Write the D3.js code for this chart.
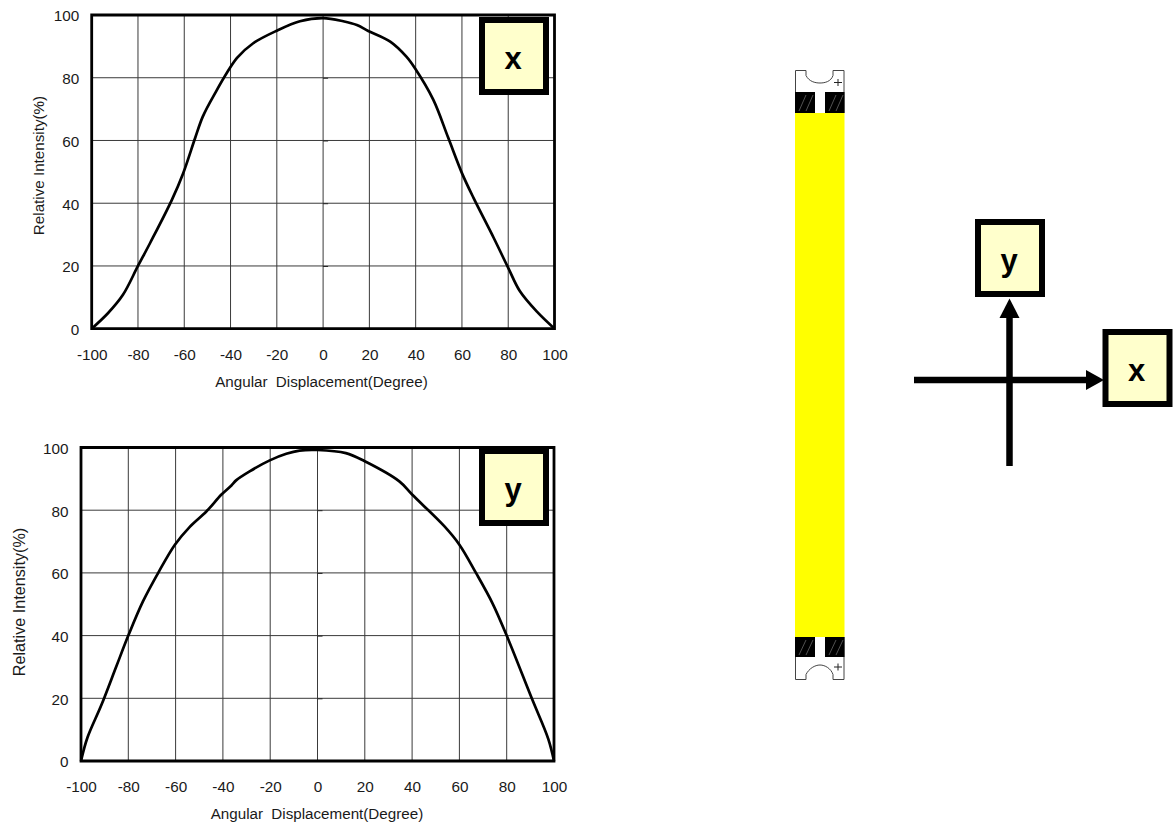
<!doctype html>
<html>
<head>
<meta charset="utf-8">
<title>Relative Intensity</title>
<script src="https://cdn.jsdelivr.net/npm/d3@7/dist/d3.min.js"></script>
<style>
  html, body { margin: 0; padding: 0; background: #fff; }
  svg { display: block; }
  text { font-family: "Liberation Sans", Arial, sans-serif; fill: #1a1a1a; }
</style>
</head>
<body>
<script>
// values
const xTicks = [-100, -80, -60, -40, -20, 0, 20, 40, 60, 80, 100];
const yTicks = [0, 20, 40, 60, 80, 100];
const xLabel = "Angular Displacement(Degree)";
const yLabel = "Relative Intensity(%)";

const angleX = [-100, -92.9, -86.5, -80, -74.7, -65.4, -60.5, -55.3, -52, -47.5, -37.2, -30.2, -20, -10, 0,
  8.7, 14.6, 19.5, 29, 36, 39.7, 47.6, 54, 60, 65, 73.7, 80, 85, 92.3, 100];
const intensityX = [0, 5, 10.8, 20, 27.4, 41, 49.5, 60.8, 67.6, 74, 86.3, 91, 95, 98, 99,
  98, 96.8, 94.9, 91.5, 86.7, 83, 73, 61, 49.6, 41.7, 29, 19.4, 12, 5.5, 0];

const angleY = [-100, -97.3, -91.3, -85, -80, -73.8, -67, -60.3, -54, -47, -40.6, -36.4, -34.3, -28.7, -20.2, -13.2, -7.6, 0,
  12, 20, 34.6, 40, 53.6, 60, 67, 74, 80, 90.6, 97.6, 100];
const intensityY = [0, 7.4, 18, 30.3, 40, 50.9, 60.5, 69, 74.7, 79.6, 85, 87.9, 89.6, 92.4, 95.9, 98, 99, 99.2,
  98.2, 95.6, 89.2, 85, 74.9, 69, 60, 50.3, 40, 20, 7, 0];

const svg = d3.select("body").append("svg").attr("width", 1174).attr("height", 826);

function drawChart(angles, values, box, tag) {
  const x = d3.scaleLinear().domain([-100, 100]).range([box.left, box.right]);
  const y = d3.scaleLinear().domain([0, 100]).range([box.bottom, box.top]);
  const g = svg.append("g");

  // grid
  g.selectAll(".gv").data(xTicks.slice(1, -1)).enter().append("line")
    .attr("x1", d => x(d)).attr("x2", d => x(d))
    .attr("y1", box.top).attr("y2", box.bottom)
    .attr("stroke", "#3a3a3a").attr("stroke-width", 1);
  g.selectAll(".gh").data(yTicks.slice(1, -1)).enter().append("line")
    .attr("x1", box.left).attr("x2", box.right)
    .attr("y1", d => y(d)).attr("y2", d => y(d))
    .attr("stroke", "#3a3a3a").attr("stroke-width", 1);

  // little ticks of the centre axis
  g.append("g").attr("transform", `translate(${x(0)},0)`)
    .call(d3.axisRight(y).tickValues(yTicks.slice(1, -1)).tickSize(5).tickFormat(""))
    .call(a => a.select(".domain").remove())
    .selectAll("line").attr("stroke", "#222");

  // curve
  const line = d3.line().x(d => x(d[0])).y(d => y(d[1])).curve(d3.curveCatmullRom.alpha(0.5));
  g.append("path").datum(d3.zip(angles, values))
    .attr("d", line).attr("fill", "none")
    .attr("stroke", "#000").attr("stroke-width", 2.7).attr("stroke-linejoin", "round");

  // frame
  g.append("path")
    .attr("d", `M${box.left},${box.top}H${box.right}V${box.bottom}H${box.left}Z`)
    .attr("fill", "none").attr("stroke", "#000").attr("stroke-width", 2.8);

  // tick labels
  g.append("g").attr("transform", `translate(0,${box.bottom})`)
    .call(d3.axisBottom(x).tickValues(xTicks).tickSize(0).tickPadding(20).tickFormat(d => d))
    .call(a => a.select(".domain").remove())
    .selectAll("text").attr("font-size", 15.3).attr("fill", "#1a1a1a").attr("font-family", "Liberation Sans");
  g.append("g").attr("transform", `translate(${box.left},0)`)
    .call(d3.axisLeft(y).tickValues(yTicks).tickSize(0).tickPadding(12.5).tickFormat(d => d))
    .call(a => a.select(".domain").remove())
    .selectAll("text").attr("font-size", 15.3).attr("dy", "0.38em").attr("fill", "#1a1a1a").attr("font-family", "Liberation Sans");

  // axis titles
  g.append("text").attr("x", box.xLabelX).attr("y", box.xLabelY)
    .attr("text-anchor", "middle").attr("font-size", 15.2).attr("word-spacing", 4).text(xLabel);
  g.append("text").attr("transform", `translate(${box.yLabelX},${box.yLabelY}) rotate(-90)`)
    .attr("text-anchor", "middle").attr("font-size", box.yLabelSize).text(yLabel);

  tagBox(box.tagX, box.tagY, tag);
}

// cream square with the axis letter
function tagBox(left, top, letter) {
  svg.append("rect").attr("x", left + 3).attr("y", top + 3).attr("width", 64).attr("height", 72)
    .attr("fill", "#FFFFCC").attr("stroke", "#000").attr("stroke-width", 6);
  svg.append("text").attr("x", left + 34).attr("y", top + 52)
    .attr("text-anchor", "middle").attr("font-size", 31).attr("font-weight", "bold")
    .style("fill", "#000").text(letter);
}

drawChart(angleX, intensityX, {
  left: 91.7, right: 554.5, top: 15, bottom: 328.7,
  xLabelX: 321.5, xLabelY: 387, yLabelX: 44, yLabelY: 165.5, yLabelSize: 15.2, tagX: 479, tagY: 17
}, "x");

drawChart(angleY, intensityY, {
  left: 81, right: 554, top: 447.5, bottom: 761,
  xLabelX: 317, xLabelY: 819, yLabelX: 25, yLabelY: 602, yLabelSize: 16.2, tagX: 479, tagY: 448
}, "y");

// LED strip
const strip = svg.append("g");
function stripEnd(outer, notch, inner, flip) {
  const p = d3.path();
  p.moveTo(795.5, inner); p.lineTo(795.5, outer); p.lineTo(806, outer);
  p.lineTo(806, outer + flip * 5);
  p.bezierCurveTo(809, outer + flip * 11, 815, notch, 820, notch);
  p.bezierCurveTo(825, notch, 831, outer + flip * 11, 833, outer + flip * 5);
  p.lineTo(833, outer); p.lineTo(844, outer); p.lineTo(844, inner);
  strip.append("path").attr("d", p.toString()).attr("fill", "#fff").attr("stroke", "#444").attr("stroke-width", 1);
}
stripEnd(70.5, 83, 113, 1);
stripEnd(679.5, 665, 637, -1);

strip.append("rect").attr("x", 795).attr("y", 113).attr("width", 49.5).attr("height", 524).attr("fill", "#FFFF00");
[[92, 113], [637, 657]].forEach(([a, b]) => {
  [[795, 20], [825, 19.5]].forEach(([l, w]) => {
    strip.append("rect").attr("x", l).attr("y", a).attr("width", w).attr("height", b - a).attr("fill", "#000");
    [4, 11].forEach(o => strip.append("line")
      .attr("x1", l + o).attr("y1", b - 2).attr("x2", l + o + 7).attr("y2", a + 3)
      .attr("stroke", "#666").attr("stroke-width", 0.8));
  });
});
[[838, 82.5], [838, 667]].forEach(([cx, cy]) => {
  strip.append("path").attr("d", `M${cx - 4},${cy}H${cx + 4}M${cx},${cy - 3.5}V${cy + 3.5}`)
    .attr("stroke", "#222").attr("stroke-width", 1);
});

// direction cross
const cross = svg.append("g");
cross.append("line").attr("x1", 914).attr("x2", 1088).attr("y1", 380).attr("y2", 380)
  .attr("stroke", "#000").attr("stroke-width", 6.5);
cross.append("line").attr("x1", 1009.5).attr("x2", 1009.5).attr("y1", 466).attr("y2", 316)
  .attr("stroke", "#000").attr("stroke-width", 6.5);
cross.append("path").attr("d", "M1086,370L1104,380L1086,390Z").attr("fill", "#000");
cross.append("path").attr("d", "M999.5,318L1009.5,298.5L1019.5,318Z").attr("fill", "#000");
tagBox(975, 219, "y");
tagBox(1102.5, 329, "x");
</script>
</body>
</html>
